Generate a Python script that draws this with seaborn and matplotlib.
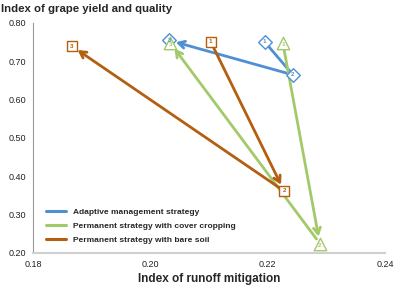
import matplotlib
matplotlib.use("Agg")
import matplotlib.pyplot as plt
import pandas as pd
import seaborn as sns

# points 1 -> 2 -> 3 per strategy
strategies = [
    "Adaptive management strategy",
    "Permanent strategy with cover cropping",
    "Permanent strategy with bare soil",
]
adaptive_x = [0.2195, 0.2243, 0.2032]
adaptive_y = [0.750, 0.664, 0.754]
cover_x = [0.2226, 0.2289, 0.2034]
cover_y = [0.746, 0.224, 0.747]
bare_x = [0.2103, 0.2228, 0.1866]
bare_y = [0.750, 0.361, 0.739]
step_labels = ["1", "2", "3"]
x_ticks = [0.18, 0.20, 0.22, 0.24]
y_ticks = [0.20, 0.30, 0.40, 0.50, 0.60, 0.70, 0.80]

colors = ["#4f8fd4", "#a2c96a", "#b45f0f"]
markers = ["D", "^", "s"]
msizes = [48, 80, 62]
# whether each segment shows a visible arrow head
heads = [[False, True], [True, True], [True, True]]

rows = []
for name, xs, ys in zip(strategies, [adaptive_x, cover_x, bare_x], [adaptive_y, cover_y, bare_y]):
    for lab, x, y in zip(step_labels, xs, ys):
        rows.append({"strategy": name, "step": lab, "x": x, "y": y})
df = pd.DataFrame(rows)

sns.set_style("white")
plt.rcParams["font.family"] = ["Liberation Sans", "DejaVu Sans"]

fig = plt.figure(figsize=(3.94, 2.86), dpi=100)
ax = fig.add_axes([0.084, 0.1164, 0.893, 0.8042])

for name, color, hd in zip(strategies, colors, heads):
    sub = df[df["strategy"] == name].reset_index(drop=True)
    for i in range(len(sub) - 1):
        style = "->,head_length=0.45,head_width=0.25" if hd[i] else "-"
        ax.annotate(
            "",
            xy=(sub.loc[i + 1, "x"], sub.loc[i + 1, "y"]),
            xytext=(sub.loc[i, "x"], sub.loc[i, "y"]),
            arrowprops=dict(arrowstyle=style, color=color, lw=2.0,
                            shrinkA=4, shrinkB=5 if hd[i] else 2),
            zorder=2,
        )
    # legend proxy
    ax.plot([], [], color=color, lw=2.2, label=name)

for name, color, m, s in zip(strategies, colors, markers, msizes):
    sub = df[df["strategy"] == name]
    sns.scatterplot(data=sub, x="x", y="y", marker=m, s=s, color="white",
                    edgecolor=color, linewidth=1.0, ax=ax, zorder=3, legend=False)
    for _, r in sub.iterrows():
        dy = -0.004 if m == "^" else 0
        ax.text(r["x"], r["y"] + dy, r["step"], color=color, fontsize=4.5,
                fontweight="bold", ha="center", va="center", zorder=4)

ax.set_xlim(0.18, 0.24)
ax.set_ylim(0.20, 0.80)
ax.set_xticks(x_ticks)
ax.set_yticks(y_ticks)
ax.set_xticklabels([f"{t:.2f}" for t in x_ticks], fontsize=6.5, color="#222222")
ax.set_yticklabels([f"{t:.2f}" for t in y_ticks], fontsize=6.5, color="#222222")
ax.tick_params(axis="both", length=3, width=0.6, color="#999999", pad=2)
for side in ["top", "right"]:
    ax.spines[side].set_visible(False)
ax.spines["left"].set_color("#999999")
ax.spines["left"].set_linewidth(0.8)
ax.spines["bottom"].set_color("#d0d0d0")
ax.spines["bottom"].set_linewidth(1.5)

ax.set_xlabel("Index of runoff mitigation", fontsize=8.5, fontweight="bold", labelpad=3)
ax.set_ylabel("")
fig.text(0.002, 0.985, "Index of grape yield and quality", fontsize=8.2,
         fontweight="bold", ha="left", va="top")

leg = ax.legend(loc="lower left", bbox_to_anchor=(0.016, 0.005), frameon=False,
                prop={"size": 6, "weight": "bold"}, handlelength=2.4,
                labelspacing=0.75, handletextpad=0.85)

fig.savefig("out.png", dpi=100)
